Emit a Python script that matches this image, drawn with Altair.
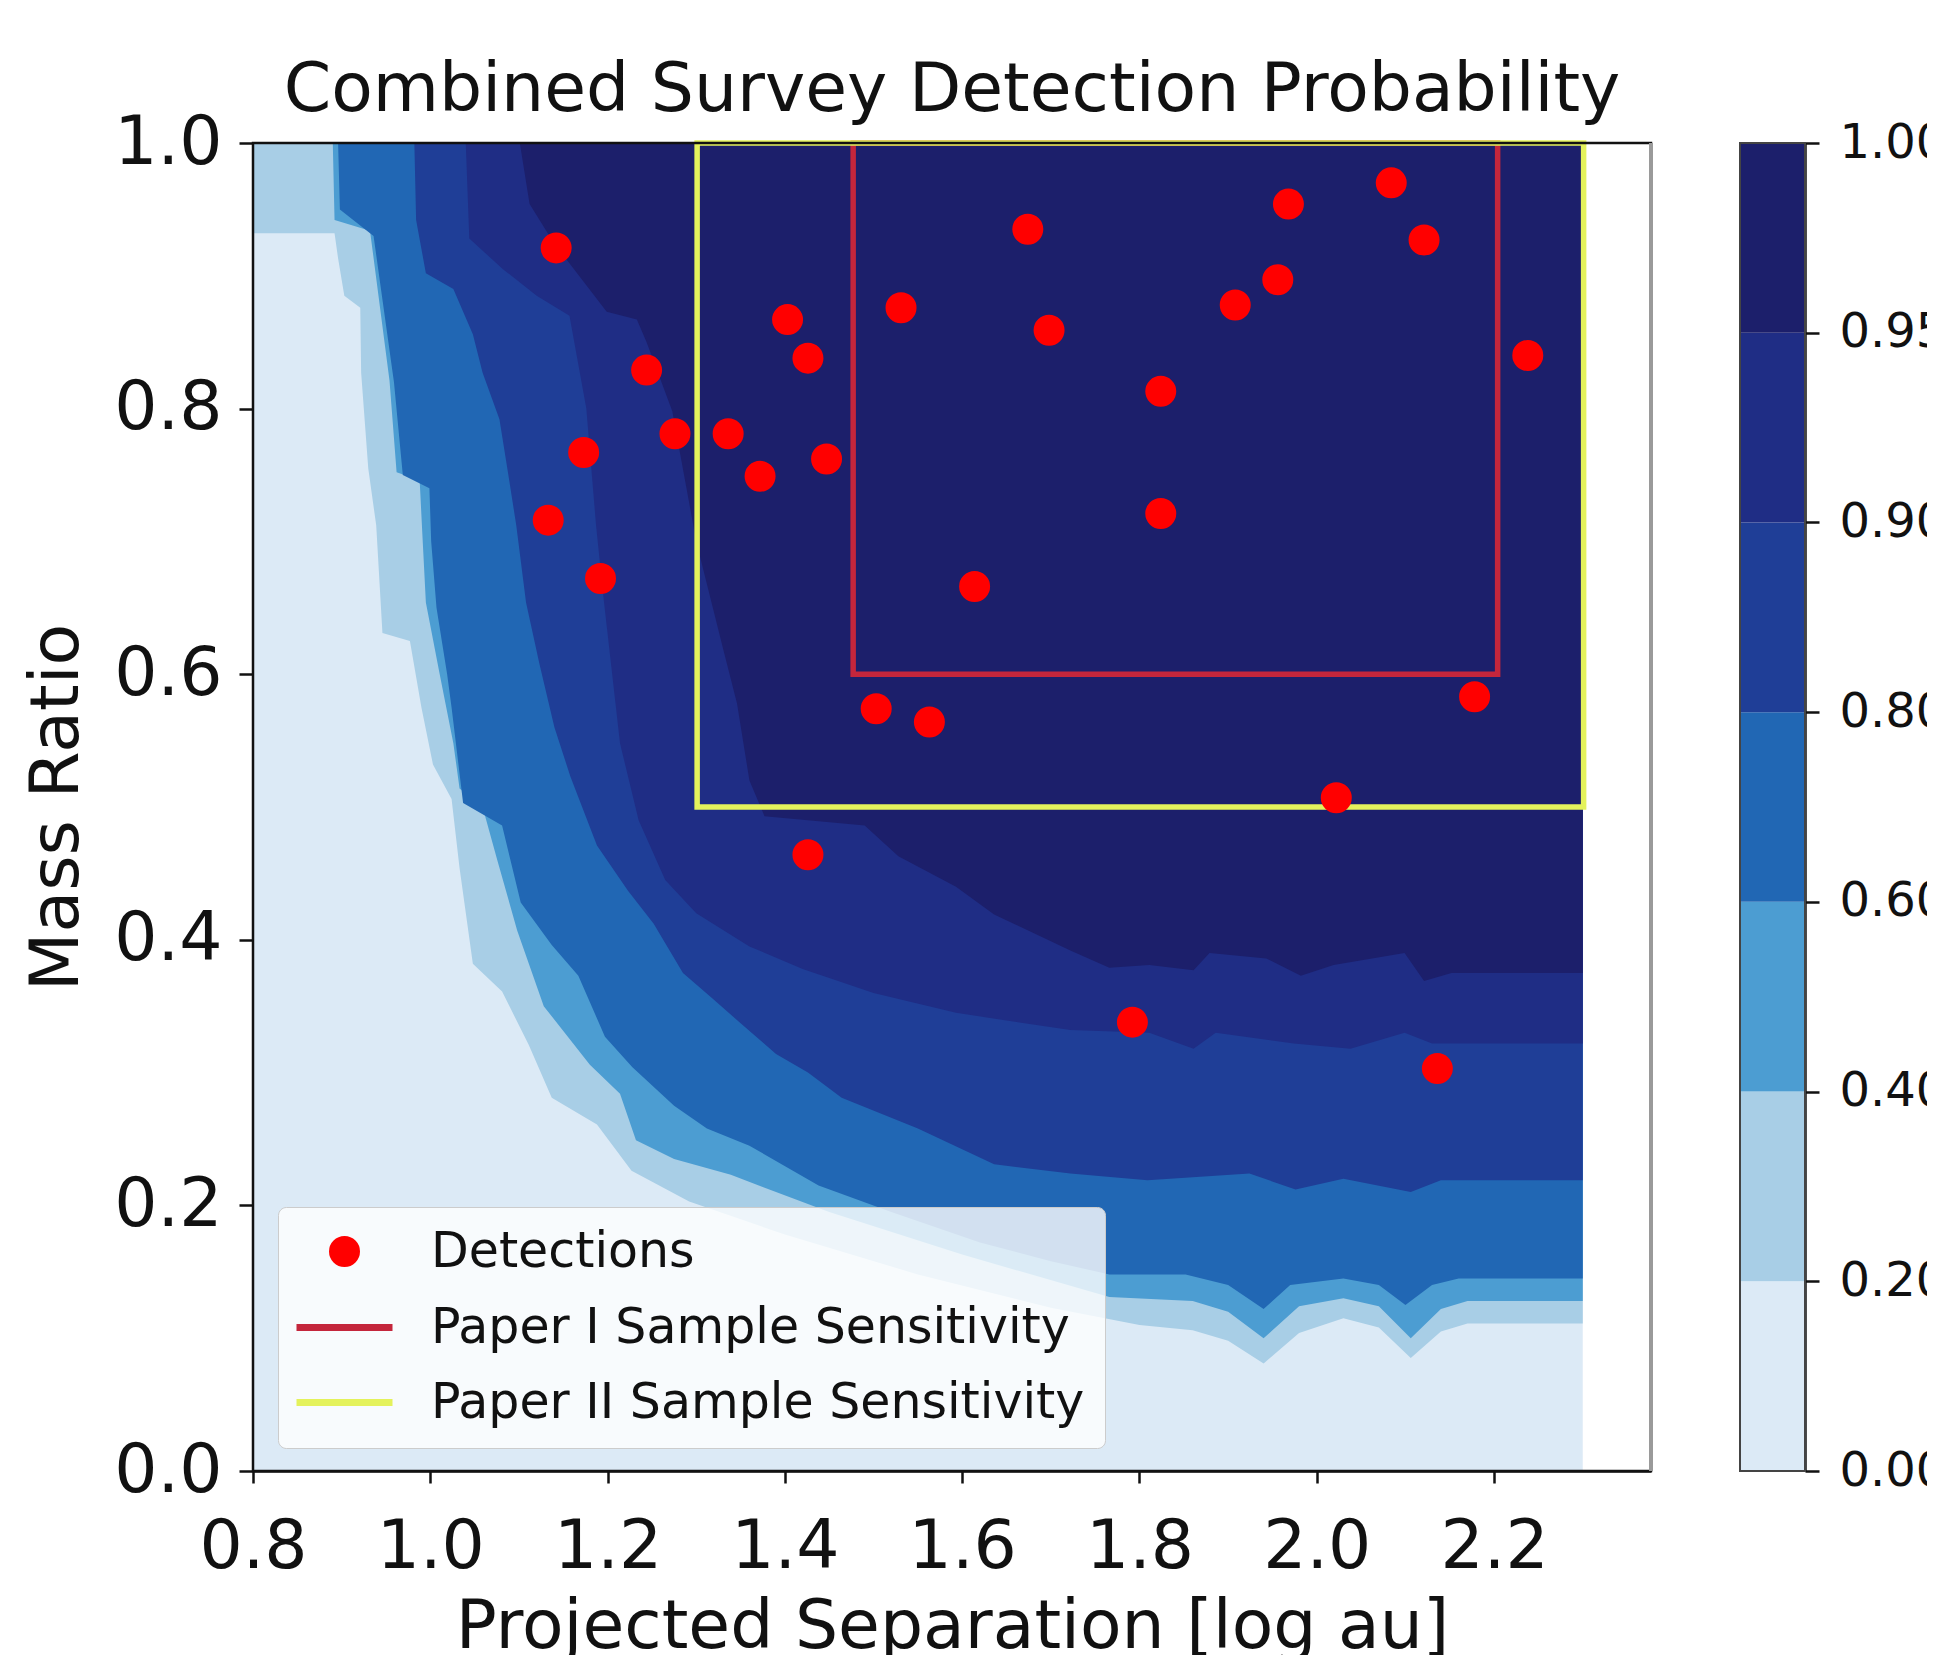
import altair as alt
import pandas as pd

# ---------------- text ----------------
chart_title = "Combined Survey Detection Probability"
x_title = "Projected Separation [log au]"
y_title = "Mass Ratio"
legend_labels = ["Detections", "Paper I Sample Sensitivity", "Paper II Sample Sensitivity"]
legend_colors = ["#ff0000", "#c4263c", "#e4f25c"]

# ---------------- detections ----------------
det_sep = [1.142, 1.173, 1.133, 1.192, 1.244, 1.276, 1.336, 1.372, 1.403, 1.426,
           1.447, 1.531, 1.503, 1.563, 1.426, 1.614, 1.674, 1.698, 1.824, 1.824,
           1.792, 1.908, 1.956, 1.968, 2.084, 2.121, 2.238, 2.178, 2.022, 2.136]
det_q = [0.921, 0.767, 0.716, 0.672, 0.829, 0.781, 0.781, 0.749, 0.867, 0.838,
         0.762, 0.876, 0.574, 0.564, 0.464, 0.666, 0.935, 0.859, 0.813, 0.721,
         0.338, 0.878, 0.897, 0.954, 0.970, 0.927, 0.840, 0.583, 0.507, 0.303]

# sensitivity boxes: x0, x1, y0, y1 (log au, mass ratio)
box_x0 = [1.477, 1.301]
box_x1 = [2.204, 2.301]
box_y0 = [0.6, 0.5]
box_y1 = [1.0, 1.0]

# ---------------- contour levels ----------------
level_labels = ["0.00", "0.20", "0.40", "0.60", "0.80", "0.90", "0.95", "1.00"]
band_colors = ["#dceaf6", "#a8cee6", "#4c9dd2", "#2167b4", "#1f3e97", "#1f2d85", "#1c1f6b"]

# lower boundary (separation, mass ratio) of the region with probability >= level
boundary_00 = [(0.800, 0.0), (2.300, 0.0)]
boundary_20 = [(0.800, 0.932), (0.892, 0.932), (0.896, 0.913), (0.903, 0.885), (0.921, 0.876),
               (0.922, 0.827), (0.930, 0.755), (0.939, 0.712), (0.946, 0.631), (0.977, 0.625),
               (0.990, 0.575), (1.003, 0.532), (1.024, 0.506), (1.033, 0.454), (1.048, 0.382),
               (1.081, 0.361), (1.111, 0.321), (1.137, 0.281), (1.188, 0.261), (1.227, 0.226),
               (1.292, 0.203), (1.400, 0.178), (1.550, 0.148), (1.700, 0.123), (1.800, 0.110),
               (1.860, 0.106), (1.900, 0.098), (1.940, 0.081), (1.980, 0.104), (2.030, 0.115),
               (2.070, 0.108), (2.106, 0.085), (2.140, 0.105), (2.170, 0.111), (2.300, 0.111)]
boundary_40 = [(0.800, 1.0), (0.890, 1.0), (0.892, 0.942), (0.932, 0.934), (0.954, 0.821),
               (0.962, 0.752), (0.988, 0.746), (0.991, 0.706), (0.995, 0.654), (1.010, 0.602),
               (1.026, 0.548), (1.033, 0.514), (1.059, 0.500), (1.076, 0.459), (1.098, 0.407),
               (1.128, 0.350), (1.180, 0.306), (1.214, 0.284), (1.232, 0.249), (1.275, 0.235),
               (1.339, 0.223), (1.450, 0.195), (1.600, 0.163), (1.766, 0.131), (1.860, 0.128),
               (1.900, 0.120), (1.940, 0.100), (1.980, 0.124), (2.030, 0.130), (2.070, 0.124),
               (2.106, 0.100), (2.140, 0.122), (2.170, 0.128), (2.300, 0.128)]
boundary_60 = [(0.800, 1.0), (0.896, 1.0), (0.898, 0.950), (0.936, 0.930), (0.959, 0.820),
               (0.969, 0.750), (0.999, 0.740), (1.001, 0.700), (1.007, 0.650), (1.019, 0.600),
               (1.024, 0.575), (1.037, 0.503), (1.081, 0.486), (1.102, 0.428), (1.137, 0.396),
               (1.167, 0.373), (1.197, 0.327), (1.228, 0.304), (1.275, 0.275), (1.312, 0.258),
               (1.360, 0.245), (1.438, 0.215), (1.520, 0.195), (1.620, 0.172), (1.700, 0.158),
               (1.766, 0.148), (1.852, 0.148), (1.900, 0.140), (1.940, 0.122), (1.970, 0.140),
               (2.030, 0.145), (2.070, 0.140), (2.100, 0.125), (2.130, 0.140), (2.160, 0.145),
               (2.300, 0.145)]
boundary_80 = [(0.800, 1.0), (0.982, 1.0), (0.984, 0.942), (0.995, 0.902), (1.026, 0.890),
               (1.048, 0.856), (1.059, 0.827), (1.078, 0.792), (1.089, 0.746), (1.097, 0.712),
               (1.108, 0.654), (1.123, 0.608), (1.140, 0.560), (1.158, 0.523), (1.188, 0.471),
               (1.223, 0.437), (1.252, 0.412), (1.285, 0.375), (1.318, 0.356), (1.352, 0.336),
               (1.390, 0.314), (1.426, 0.300), (1.464, 0.281), (1.550, 0.258), (1.636, 0.231),
               (1.722, 0.224), (1.809, 0.219), (1.924, 0.224), (1.976, 0.212), (2.030, 0.220),
               (2.106, 0.210), (2.140, 0.219), (2.300, 0.219)]
boundary_90 = [(0.800, 1.0), (1.040, 1.0), (1.044, 0.928), (1.082, 0.905), (1.120, 0.885),
               (1.157, 0.870), (1.176, 0.800), (1.187, 0.712), (1.196, 0.654), (1.214, 0.548),
               (1.235, 0.490), (1.265, 0.445), (1.300, 0.420), (1.360, 0.395), (1.420, 0.378),
               (1.500, 0.360), (1.593, 0.345), (1.722, 0.332), (1.811, 0.330), (1.861, 0.318),
               (1.886, 0.330), (1.974, 0.322), (2.038, 0.318), (2.099, 0.330), (2.130, 0.322),
               (2.300, 0.322)]
boundary_95 = [(0.800, 1.0), (1.101, 1.0), (1.112, 0.954), (1.139, 0.925), (1.199, 0.873),
               (1.233, 0.867), (1.244, 0.850), (1.273, 0.798), (1.289, 0.740), (1.300, 0.700),
               (1.330, 0.620), (1.346, 0.578), (1.360, 0.520), (1.377, 0.493), (1.490, 0.486),
               (1.528, 0.463), (1.593, 0.440), (1.636, 0.419), (1.722, 0.392), (1.766, 0.379),
               (1.811, 0.381), (1.861, 0.377), (1.879, 0.390), (1.943, 0.386), (1.982, 0.373),
               (2.019, 0.381), (2.099, 0.390), (2.121, 0.369), (2.152, 0.375), (2.300, 0.375)]
boundaries = [boundary_00, boundary_20, boundary_40, boundary_60,
              boundary_80, boundary_90, boundary_95]

x_ticks = [0.8, 1.0, 1.2, 1.4, 1.6, 1.8, 2.0, 2.2]
y_ticks = [0.0, 0.2, 0.4, 0.6, 0.8, 1.0]

# ---------------- styling ----------------
FONT = "DejaVu Sans"
INK = "#111111"
W, H = 1398, 1328
X_MAX = 2.377
Q_TOP = 1.0

xscale = alt.Scale(domain=[0.8, X_MAX], nice=False, zero=False)
yscale = alt.Scale(domain=[0.0, 1.0], nice=False, zero=False)

xaxis = alt.Axis(values=x_ticks, format=".1f", title=x_title, grid=False,
                 labelFlush=False, tickSize=12, tickWidth=2.5, tickColor=INK,
                 domainColor=INK, domainWidth=2.5, labelPadding=30,
                 labelFont=FONT, labelFontSize=68, labelColor=INK,
                 titleFont=FONT, titleFontSize=68, titleFontWeight="normal",
                 titleColor=INK, titleX=W / 2, titleY=176,
                 titleBaseline="alphabetic", titleAlign="center")
yaxis = alt.Axis(values=y_ticks, format=".1f", title=y_title, grid=False,
                 labelFlush=False, tickSize=14, tickWidth=2.5, tickColor=INK,
                 domainColor=INK, domainWidth=2.5, labelPadding=17,
                 labelFont=FONT, labelFontSize=68, labelColor=INK,
                 titleFont=FONT, titleFontSize=68, titleFontWeight="normal",
                 titleColor=INK, titleX=-176, titleY=H / 2, titleAngle=-90,
                 titleBaseline="alphabetic", titleAlign="center")

# ---------------- contour bands ----------------
layers = []
for pts, col in zip(boundaries, band_colors):
    df = pd.DataFrame({"sep": [p[0] for p in pts],
                       "q": [p[1] for p in pts],
                       "top": [Q_TOP] * len(pts)})
    layers.append(
        alt.Chart(df).mark_area(color=col, opacity=1, line=False).encode(
            x=alt.X("sep:Q", scale=xscale, axis=xaxis),
            y=alt.Y("q:Q", scale=yscale, axis=yaxis, stack=None),
            y2=alt.Y2("top:Q"),
        )
    )

# ---------------- legend-bearing layers ----------------
ring = "M0.22,0A0.22,0.22 0 1,1 -0.22,0A0.22,0.22 0 1,1 0.22,0Z" \
       "M0.53,0A0.53,0.53 0 1,1 -0.53,0A0.53,0.53 0 1,1 0.53,0Z" \
       "M0.75,0A0.75,0.75 0 1,1 -0.75,0A0.75,0.75 0 1,1 0.75,0Z"
dash = "M-3,0L3,0"

color_scale = alt.Scale(domain=legend_labels, range=legend_colors)
shape_scale = alt.Scale(domain=legend_labels, range=[ring, dash, dash])
legend = alt.Legend(title=None, orient="none", legendX=25, legendY=1064,
                    labelFont=FONT, labelFontSize=49, labelColor=INK, labelLimit=2000,
                    symbolSize=1024, symbolStrokeWidth=7, symbolOffset=22,
                    labelOffset=62, rowPadding=25, padding=20,
                    fillColor="rgba(255,255,255,0.8)", strokeColor="#cccccc",
                    cornerRadius=8)

box_df = pd.DataFrame({"x0": box_x0, "x1": box_x1, "y0": box_y0, "y1": box_y1,
                       "label": legend_labels[1:]})
boxes = alt.Chart(box_df).mark_rect(filled=False, strokeWidth=5.5, opacity=1).encode(
    x=alt.X("x0:Q", scale=xscale, axis=xaxis),
    x2="x1:Q",
    y=alt.Y("y0:Q", scale=yscale, axis=yaxis),
    y2="y1:Q",
    color=alt.Color("label:N", scale=color_scale, legend=legend),
)

det_df = pd.DataFrame({"sep": det_sep, "q": det_q, "label": legend_labels[0]})
points = alt.Chart(det_df).mark_point(filled=False, size=1024, strokeWidth=7, opacity=1).encode(
    x=alt.X("sep:Q", scale=xscale, axis=xaxis),
    y=alt.Y("q:Q", scale=yscale, axis=yaxis),
    color=alt.Color("label:N", scale=color_scale, legend=legend),
    shape=alt.Shape("label:N", scale=shape_scale, legend=legend),
)

# frame of the axes
frame_df = pd.DataFrame({"x0": [0.8], "x1": [X_MAX], "y0": [0.0], "y1": [1.0]})
frame = alt.Chart(frame_df).mark_rect(
    fill=None, fillOpacity=0, stroke=INK, strokeWidth=2.5).encode(
    x=alt.X("x0:Q", scale=xscale, axis=xaxis), x2="x1:Q",
    y=alt.Y("y0:Q", scale=yscale, axis=yaxis), y2="y1:Q",
)
right_spine = alt.Chart(frame_df).mark_rule(color="#9a9a9a", strokeWidth=4).encode(
    x=alt.X("x1:Q", scale=xscale, axis=xaxis),
    y=alt.Y("y0:Q", scale=yscale, axis=yaxis), y2="y1:Q",
)

# title as a text mark centred over the plot
title_mark = alt.Chart(pd.DataFrame({"t": [chart_title]})).mark_text(
    font=FONT, fontSize=68, color=INK, align="center", baseline="alphabetic").encode(
    text="t:N", x=alt.value(W / 2), y=alt.value(-32),
)

main = alt.layer(*layers, boxes, points, frame, right_spine, title_mark)

# ---------------- colorbar ----------------
cb_df = pd.DataFrame({"lo": list(range(7)), "hi": list(range(1, 8)), "fill": band_colors})
label_expr = "[" + ",".join("'" + s + "'" for s in level_labels) + "][datum.value]"
cb_axis = alt.Axis(orient="right", offset=154, values=list(range(8)), labelExpr=label_expr,
                   title=None, grid=False, labelFlush=False, tickSize=14, tickWidth=2.5,
                   tickColor=INK, domainColor=INK, domainWidth=2.5, labelPadding=20,
                   labelFont=FONT, labelFontSize=48, labelColor=INK)
cb_scale = alt.Scale(domain=[0, 7], nice=False, zero=False)
cb_bands = alt.Chart(cb_df).mark_rect().encode(
    x=alt.value(1487), x2=alt.value(1552),
    y=alt.Y("lo:Q", scale=cb_scale, axis=cb_axis),
    y2="hi:Q",
    fill=alt.Fill("fill:N", scale=None),
)
cb_frame = alt.Chart(pd.DataFrame({"lo": [0], "hi": [7]})).mark_rect(
    fill=None, fillOpacity=0, stroke="#444444", strokeWidth=2).encode(
    x=alt.value(1487), x2=alt.value(1552),
    y=alt.Y("lo:Q", scale=cb_scale, axis=cb_axis),
    y2="hi:Q",
)
colorbar = alt.layer(cb_bands, cb_frame)

chart = alt.layer(main, colorbar).resolve_scale(y="independent").properties(
    width=W, height=H,
    padding={"left": 245, "top": 135, "right": 276, "bottom": 184},
    autosize=alt.AutoSizeParams(type="none"),
).configure_view(stroke=None).configure(background="white")

chart.save("out.html", embed_options={"renderer": "svg", "actions": False})
